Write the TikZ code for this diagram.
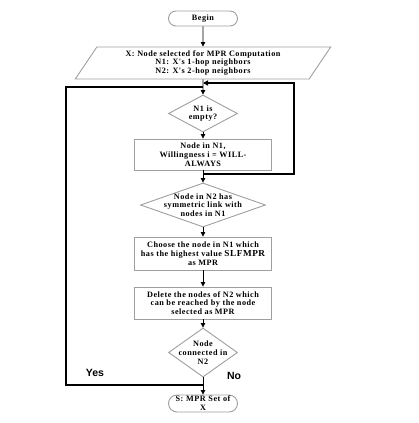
\documentclass[tikz,border=0pt]{standalone}
\usepackage{fontspec}
\setmainfont{Liberation Serif}
\newfontfamily\boxfont[LetterSpace=6]{Liberation Serif}
\newfontfamily\labfont{Liberation Sans}
\usetikzlibrary{arrows.meta,shapes.geometric,positioning}

\begin{document}
\begin{tikzpicture}[x=1pt,y=-1pt,
  txt/.style={font=\boxfont\bfseries\fontsize{8.2}{8.8}\selectfont,align=center},
  shp/.style={draw=gray!75,line width=0.9pt,fill=white},
  term/.style={shp,txt,rounded corners=7.5pt,minimum width=69pt,minimum height=15pt,inner sep=0pt},
  io/.style={shp,txt,trapezium,trapezium left angle=58,trapezium right angle=122,
    trapezium stretches,minimum width=256pt,minimum height=32pt,inner sep=0pt},
  box/.style={shp,txt,minimum width=137pt,inner sep=0pt},
  dec/.style={shp,diamond,inner sep=0pt},
  dectxt/.style={txt,inner sep=0pt},
  flow/.style={line width=0.8pt,-{Triangle[length=4.5pt,width=4.5pt]}},
  back/.style={line width=2.2pt},
  yn/.style={font=\labfont\bfseries\fontsize{10.5}{12}\selectfont}]
  \useasboundingbox (0,0) rectangle (418,423);

  \node[term] (begin) at (203,18.5) {Begin};
  \node[io] (input) at (203,63) {X: Node selected for MPR Computation\\N1: X's 1-hop neighbors\\N2: X's 2-hop neighbors};
  \node[dec,minimum width=69pt,minimum height=37pt,
    label={[dectxt]center:{N1 is\\empty?}}] (empty) at (203,113.5) {};
  \node[box,minimum height=31pt] (will) at (203,154.5) {Node in N1,\\Willingness i = WILL-\\ALWAYS};
  \node[dec,minimum width=125pt,minimum height=44pt,
    label={[dectxt]center:{Node in N2 has\\symmetric link with\\nodes in N1}}] (sym) at (203,205) {};
  \node[box,minimum height=33pt] (choose) at (203,253.5) {Choose the node in N1 which\\has the highest value {\fontsize{9.2}{9}\selectfont SLFMPR}\\as MPR};
  \node[box,minimum height=32pt] (delete) at (203,303) {Delete the nodes of N2 which\\can be reached by the node\\selected as MPR};
  \node[dec,minimum width=69pt,minimum height=49pt,
    label={[dectxt]center:{Node\\connected in\\N2}}] (conn) at (203,352.5) {};
  \node[term,rounded corners=8.5pt,minimum height=17pt,text width=69pt] (out) at (203,403.5) {\makebox[69pt]{S: MPR Set of}\\X};

  \coordinate (j1) at (203,174);
  \coordinate (ra) at (203,83);
  \coordinate (la) at (203,87);
  \coordinate (j2) at (203,385);

  \draw[flow] (begin) -- (input);
  \draw[flow] (input) -- (empty);
  \draw[flow] (empty) -- (will);
  \draw[flow] (will) -- (sym);
  \draw[flow] (sym) -- (choose);
  \draw[flow] (choose) -- (delete);
  \draw[flow] (delete) -- (conn);
  \draw[flow] (conn) -- (out);

  \draw[back,-{Triangle[length=5pt,width=5pt]}] (j1) -- ++(91,0) |- (ra);
  \draw[back] (j2) -- ++(-137,0) |- (la);

  \node[yn] (yes) at (95,373) {Yes};
  \node[yn] (no) at (234,376) {No};
\end{tikzpicture}
\end{document}
